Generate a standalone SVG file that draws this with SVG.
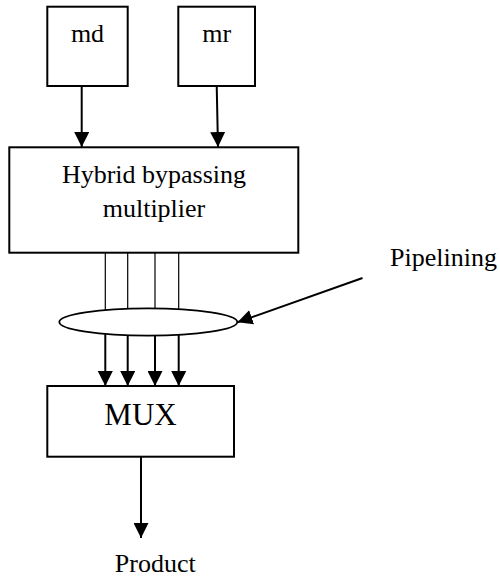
<svg xmlns="http://www.w3.org/2000/svg" width="500" height="580" viewBox="0 0 500 580">
<style>
.box{fill:#fff;stroke:#000;stroke-width:2}
.t{font-family:"Liberation Serif","Times New Roman",serif;font-size:26px;fill:#000}
.c{stroke:#000;stroke-width:2;fill:none}
.thin{stroke:#000;stroke-width:1.2;fill:none}
</style>
<defs>
<marker id="ah" markerUnits="userSpaceOnUse" markerWidth="15" markerHeight="15" refX="15" refY="7.5" orient="auto">
<path d="M0,0 L15,7.5 L0,15 z" fill="#000"/>
</marker>
</defs>
<rect width="500" height="580" fill="#fff"/>
<g id="connectors">
<line class="c" x1="81.7" y1="86" x2="81.7" y2="147" marker-end="url(#ah)"/>
<line class="c" x1="216.7" y1="86" x2="218" y2="147" marker-end="url(#ah)"/>
<line class="thin" x1="105.3" y1="253" x2="105.3" y2="310"/>
<line class="thin" x1="127.7" y1="253" x2="127.7" y2="309"/>
<line class="thin" x1="155" y1="253" x2="155" y2="308.5"/>
<line class="thin" x1="178.7" y1="253" x2="178.7" y2="309"/>
<line class="c" x1="105.3" y1="334" x2="105.3" y2="386" marker-end="url(#ah)"/>
<line class="c" x1="127.7" y1="335" x2="127.7" y2="386" marker-end="url(#ah)"/>
<line class="c" x1="155" y1="335.5" x2="155" y2="386" marker-end="url(#ah)"/>
<line class="c" x1="178.7" y1="335" x2="178.7" y2="386" marker-end="url(#ah)"/>
<line class="c" x1="141" y1="457" x2="141" y2="538" marker-end="url(#ah)"/>
<line class="c" x1="362.5" y1="278" x2="237.5" y2="322.3" marker-end="url(#ah)"/>
</g>
<g id="md">
<rect class="box" x="47.3" y="6.7" width="80.4" height="79.3"/>
<text class="t" x="87.5" y="41.5" text-anchor="middle">md</text>
</g>
<g id="mr">
<rect class="box" x="178.3" y="6.7" width="76.7" height="79.3"/>
<text class="t" x="216.7" y="41.5" text-anchor="middle">mr</text>
</g>
<g id="hybrid">
<rect class="box" x="9.3" y="147.3" width="289" height="105.4"/>
<text class="t" x="154" y="183" text-anchor="middle">Hybrid bypassing</text>
<text class="t" x="154" y="217" text-anchor="middle">multiplier</text>
</g>
<g id="pipeline">
<ellipse cx="148.3" cy="322" rx="89" ry="13.7" fill="none" stroke="#000" stroke-width="1.8"/>
</g>
<g id="pipelining-label">
<text class="t" x="390" y="266">Pipelining</text>
</g>
<g id="mux">
<rect class="box" x="47.3" y="386" width="186.7" height="70.7"/>
<text class="t" x="140.5" y="425" text-anchor="middle" style="font-size:31px">MUX</text>
</g>
<g id="product">
<text class="t" x="155.3" y="572" text-anchor="middle">Product</text>
</g>
</svg>
